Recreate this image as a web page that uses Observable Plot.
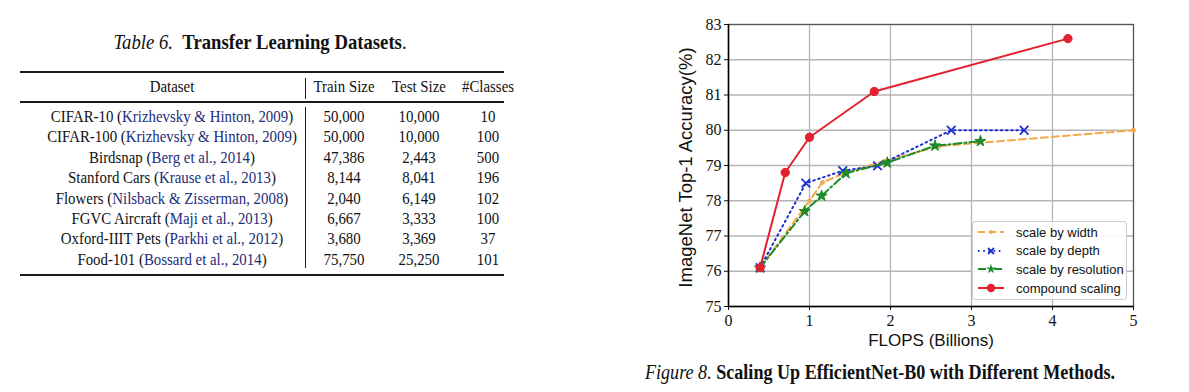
<!DOCTYPE html>
<html><head><meta charset="utf-8">
<script src="https://cdn.jsdelivr.net/npm/d3@7"></script>
<script src="https://cdn.jsdelivr.net/npm/@observablehq/plot@0.6"></script>
<style>
body{margin:0;background:#fff;width:1189px;height:392px;position:relative;overflow:hidden;font-family:"Liberation Serif",serif;color:#111}
.t{position:absolute;white-space:nowrap;transform:translate(-50%,-50%) scaleX(0.85);line-height:1}
.cell{font-size:17.5px}
.cite{color:#1c2d7a}
.rule{position:absolute;background:#1a1a1a}
#chart{position:absolute;left:670px;top:0}
#legend{position:absolute;left:972px;top:221px;width:153px;height:77px;border:1px solid #ccc;border-radius:3px;background:rgba(255,255,255,0.9);font-family:"Liberation Sans",sans-serif;font-size:13px;color:#111}
#legend .row{position:absolute;left:4px;height:18px;display:flex;align-items:center}
#legend svg{margin-right:11px}
</style></head><body>
<div id="table"></div>
<div id="chart"></div>
<div id="legend"></div>
<div class="t" style="left:880px;top:372px;font-size:20px;transform:translate(-50%,-50%) scaleX(0.905)"><i>Figure 8.</i> <b>Scaling Up EfficientNet-B0 with Different Methods.</b></div>
<script>
// ---- table data ----
const tableTitle = "Transfer Learning Datasets";
const headers = ["Dataset","Train Size","Test Size","#Classes"];
const datasetNames = ["CIFAR-10","CIFAR-100","Birdsnap","Stanford Cars","Flowers","FGVC Aircraft","Oxford-IIIT Pets","Food-101"];
const citations = ["Krizhevsky & Hinton, 2009","Krizhevsky & Hinton, 2009","Berg et al., 2014","Krause et al., 2013","Nilsback & Zisserman, 2008","Maji et al., 2013","Parkhi et al., 2012","Bossard et al., 2014"];
const trainSizes = ["50,000","50,000","47,386","8,144","2,040","6,667","3,680","75,750"];
const testSizes = ["10,000","10,000","2,443","8,041","6,149","3,333","3,369","25,250"];
const numClasses = ["10","100","500","196","102","100","37","101"];

// ---- chart data ----
const widthFlops = [0.39, 1.0, 1.16, 1.45, 1.92, 2.6, 5.0];
const widthAcc   = [76.1, 78.0, 78.52, 78.8, 79.12, 79.55, 80.0];
const depthFlops = [0.39, 0.955, 1.41, 1.84, 2.75, 3.65];
const depthAcc   = [76.1, 78.5, 78.85, 78.99, 80.0, 80.0];
const resFlops   = [0.39, 0.94, 1.15, 1.45, 1.96, 2.55, 3.11];
const resAcc     = [76.1, 77.7, 78.14, 78.78, 79.08, 79.56, 79.69];
const compFlops  = [0.39, 0.70, 1.0, 1.8, 4.19];
const compAcc    = [76.1, 78.8, 79.8, 81.1, 82.6];
const xTicks = [0,1,2,3,4,5];
const yTicks = [75,76,77,78,79,80,81,82,83];

// ---- table layout (HTML) ----
const T = document.getElementById("table");
const esc = s => s.replace(/&/g,"&amp;");
function put(html, x, y, cls, style){
  const d=document.createElement("div"); d.className="t "+(cls||""); d.style.left=x+"px"; d.style.top=y+"px";
  if(style) d.style.cssText += style;
  d.innerHTML=html; T.appendChild(d);
}
function rule(x,y,w,h){const d=document.createElement("div");d.className="rule";d.style.cssText=`left:${x}px;top:${y}px;width:${w}px;height:${h}px`;T.appendChild(d);}
put(`<i>Table 6.</i>&nbsp;&nbsp;<b>${tableTitle}</b>.`, 260, 42, "", "font-size:22px");
const colX = [172, 344, 418.5, 488];
rule(20,70.5,484,2.2);
rule(20,101.3,484,1.4);
rule(20,273.5,484,2.2);
rule(304.5,78,1,21);
rule(304.5,107,1,161);
headers.forEach((h,i)=>put(h, colX[i], 87, "cell"));
datasetNames.forEach((n,i)=>{
  const y = 117 + i*20.4;
  put(`${n} (<span class="cite">${esc(citations[i])}</span>)`, colX[0], y, "cell");
  put(trainSizes[i], colX[1], y, "cell");
  put(testSizes[i], colX[2], y, "cell");
  put(numClasses[i], colX[3], y, "cell");
});

// ---- chart ----
const series = [
  {name:"scale by width", fx:widthFlops, fy:widthAcc, color:"#f3a94a", dash:"7,4", symbol:"circle", r:2, fill:"#f3a94a"},
  {name:"scale by depth", fx:depthFlops, fy:depthAcc, color:"#1c2fd0", dash:"1.6,3.6", symbol:"times", r:4, fill:"none"},
  {name:"scale by resolution", fx:resFlops, fy:resAcc, color:"#1e8a2a", dash:"8,3,2,3", symbol:"star", r:3.5, fill:"#1e8a2a"},
  {name:"compound scaling", fx:compFlops, fy:compAcc, color:"#e3212e", dash:null, symbol:"circle", r:4.2, fill:"#e3212e"}
];
const marks = [
  Plot.gridX(xTicks,{stroke:"#b5b5b5",strokeOpacity:1,strokeWidth:1.3}),
  Plot.gridY(yTicks,{stroke:"#b5b5b5",strokeOpacity:1,strokeWidth:1.3}),
  Plot.frame({stroke:"#555",strokeWidth:1.2}),
  Plot.ruleX([0],{stroke:"#000",strokeWidth:1.5}),
  Plot.ruleY([75],{stroke:"#000",strokeWidth:1.5}),
  Plot.axisX({ticks:xTicks,tickSize:4,tickPadding:4,label:null,fontSize:16,tickFormat:d3.format("d")}),
  Plot.axisY({ticks:yTicks,tickSize:4,tickPadding:3,label:null,fontSize:16,tickFormat:d3.format("d")}),
];
series.forEach(s=>{
  const d = s.fx.map((x,i)=>({x, y:s.fy[i]}));
  marks.push(Plot.line(d,{x:"x",y:"y",stroke:s.color,strokeWidth:2,strokeDasharray:s.dash||undefined}));
  marks.push(Plot.dot(d,{x:"x",y:"y",symbol:s.symbol,r:s.r,fill:s.fill,stroke:s.color,strokeWidth:s.symbol==="times"?1.8:1}));
});
marks.push(Plot.text(["ImageNet Top-1 Accuracy(%)"],{frameAnchor:"left",textAnchor:"middle",rotate:-90,dx:-42,dy:2,fontSize:18.5,fontFamily:"Liberation Sans",fill:"#111"}));
marks.push(Plot.text(["FLOPS (Billions)"],{frameAnchor:"bottom",dy:39,fontSize:17,fontFamily:"Liberation Sans",fill:"#111"}));

const chart = Plot.plot({
  width:480, height:355,
  marginLeft:58, marginTop:24, marginRight:17, marginBottom:49,
  x:{domain:[0,5]}, y:{domain:[75,83]},
  style:{fontFamily:"Liberation Serif",fontSize:"16px",color:"#111",background:"transparent",overflow:"visible"},
  marks
});
document.getElementById("chart").appendChild(chart);

// legend
const lg = document.getElementById("legend");
series.forEach((s,i)=>{
  const row=document.createElement("div");
  row.className="row"; row.style.top=(1+i*18.7)+"px";
  let m="";
  if(s.symbol==="circle") m=`<circle cx="14" cy="9" r="${s.r}" fill="${s.fill}"/>`;
  else if(s.symbol==="times") m=`<path d="M11,6L17,12M17,6L11,12" stroke="${s.color}" stroke-width="1.8"/>`;
  else m=`<path d="${d3.symbol(d3.symbolStar, 30)()}" transform="translate(14,9)" fill="${s.fill}"/>`;
  row.innerHTML=`<svg width="28" height="18"><line x1="1" x2="27" y1="9" y2="9" stroke="${s.color}" stroke-width="2" ${s.dash?`stroke-dasharray="${s.dash}"`:""}/>${m}</svg><span>${s.name}</span>`;
  lg.appendChild(row);
});
</script>
</body></html>
